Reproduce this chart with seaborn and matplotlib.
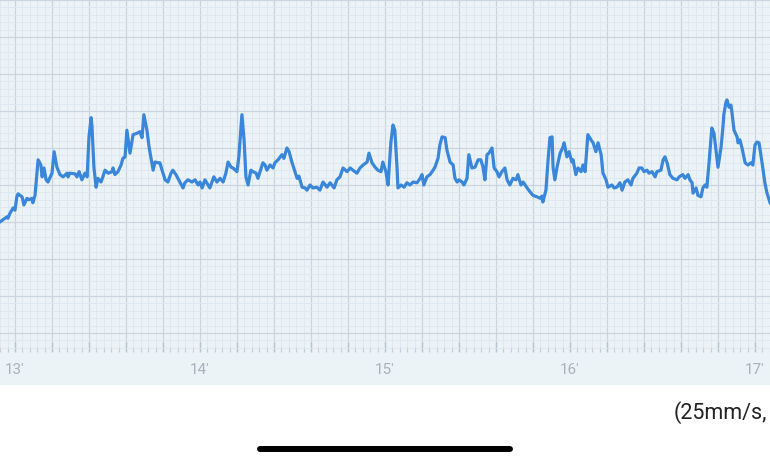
import pandas as pd
import matplotlib.pyplot as plt
import seaborn as sns
from matplotlib.ticker import MultipleLocator, FuncFormatter
from matplotlib.lines import Line2D
from matplotlib.patches import Rectangle

# ECG overview trace: time in seconds, amplitude in mV
time_s = [
    775.1, 776.1, 777.4, 777.7, 778.4, 779.4, 780.0, 780.6, 781.0, 782.3, 782.9, 783.9,
    784.5, 785.5, 785.8, 786.5, 787.5, 788.4, 788.8, 789.4, 790.1, 790.7, 792.0, 792.7,
    793.6, 794.6, 795.6, 796.9, 797.2, 797.8, 799.5, 800.1, 800.8, 801.7, 802.7, 803.4,
    804.0, 804.7, 805.0, 805.6, 806.3, 806.9, 807.9, 808.5, 809.2, 810.2, 811.5, 811.8,
    812.4, 813.4, 814.4, 815.0, 815.7, 816.3, 817.3, 818.3, 819.6, 820.5, 821.2, 821.8,
    822.8, 823.5, 824.8, 825.4, 826.4, 827.0, 827.7, 828.7, 829.6, 830.6, 831.2, 832.2,
    833.5, 834.5, 835.1, 836.1, 837.4, 838.4, 839.4, 840.0, 840.7, 841.6, 842.6, 843.2,
    844.5, 845.5, 846.5, 847.5, 848.4, 849.1, 850.1, 850.7, 852.0, 852.6, 853.6, 854.3,
    854.9, 855.6, 856.5, 857.2, 858.2, 858.8,
    860.4, 861.1, 861.7, 862.7, 863.7, 864.3, 865.3, 866.6, 867.2, 868.2, 868.9, 869.8,
    870.8, 871.5, 872.1, 873.1, 874.1, 874.7, 875.7, 876.6, 877.9, 878.9, 879.9, 881.2,
    882.2, 883.5, 884.4, 885.4, 886.4, 887.7, 888.7, 889.6, 890.9, 891.9, 892.9, 894.2,
    894.8, 895.8, 896.8, 897.7, 898.7, 899.3, 900.3, 901.0, 901.9, 902.6, 903.2, 903.9,
    904.2, 905.2, 906.2, 907.1, 908.1, 909.1, 910.4, 911.4, 912.0, 912.6, 913.6, 914.6,
    915.6, 916.2, 917.2, 917.8, 918.5, 919.5, 920.1, 921.1, 922.1, 922.7, 923.4, 924.0,
    925.0, 925.6, 926.6, 927.2, 928.2, 929.2, 930.2, 931.1, 931.8, 932.4, 933.1, 933.7,
    934.7, 935.4, 936.3, 937.0, 937.9, 938.9, 939.6,
    940.5, 941.5, 942.5, 943.1, 944.1, 944.8, 946.1, 947.0, 948.0, 949.3, 950.3, 950.9,
    951.2, 952.2, 952.9, 953.5, 954.2, 954.5, 955.1, 955.8, 956.8, 957.7, 958.1, 959.0,
    959.7, 960.6, 961.0, 961.9, 962.6, 963.6, 964.2, 964.9, 965.8, 966.8, 967.5, 968.4,
    969.1, 970.1, 970.7, 971.7, 972.3, 973.6, 974.3, 975.2, 976.2, 976.9, 977.8, 978.8,
    979.8, 980.4, 981.7, 982.4, 983.3, 984.0, 985.0, 985.6, 986.6, 987.6, 988.2, 989.5,
    990.2, 990.8, 991.5, 992.4, 993.4, 994.7, 995.4, 996.6, 997.3, 998.3, 998.9, 999.6,
    999.9, 1000.9, 1001.5, 1002.5, 1003.1, 1003.8, 1004.4, 1005.1, 1006.0, 1006.7, 1007.7, 1008.0,
    1009.0, 1009.6, 1009.9, 1010.6, 1010.9, 1011.6, 1012.2, 1012.5, 1013.2, 1014.2, 1014.5, 1015.1,
    1015.8, 1016.8, 1017.7, 1018.7, 1019.3, 1020.0, 1020.6, 1021.3, 1022.3, 1023.2, 1023.9, 1024.9,
]
amp_mv = [
    1.50, 1.53, 1.57, 1.55, 1.62, 1.69, 1.66, 1.84, 1.88, 1.84, 1.73, 1.82,
    1.80, 1.82, 1.76, 1.86, 2.34, 2.27, 2.11, 2.23, 2.07, 2.04, 2.16, 2.45,
    2.24, 2.14, 2.11, 2.16, 2.11, 2.16, 2.15, 2.11, 2.18, 2.07, 2.16, 2.11,
    2.65, 2.91, 2.77, 2.24, 1.97, 2.09, 2.04, 2.11, 2.20, 2.16, 2.18, 2.23,
    2.14, 2.18, 2.27, 2.36, 2.38, 2.74, 2.43, 2.68, 2.70, 2.72, 2.64, 2.95,
    2.74, 2.51, 2.20, 2.31, 2.30, 2.30, 2.20, 2.07, 2.04, 2.16, 2.20, 2.14,
    2.04, 1.96, 2.03, 2.07, 2.04, 2.07, 2.00, 2.04, 1.96, 2.07, 2.00, 1.96,
    2.11, 2.04, 2.09, 2.04, 2.16, 2.31, 2.24, 2.23, 2.18, 2.38, 2.95, 2.61,
    2.11, 2.00, 2.20, 2.18, 2.16, 2.09,
    2.30, 2.27, 2.20, 2.27, 2.23, 2.30, 2.34, 2.41, 2.36, 2.50, 2.45, 2.31,
    2.18, 2.09, 2.12, 1.97, 1.96, 1.93, 2.00, 1.96, 1.97, 1.93, 2.04, 1.97,
    2.03, 1.96, 2.07, 2.11, 2.23, 2.18, 2.23, 2.20, 2.16, 2.23, 2.27, 2.31,
    2.43, 2.30, 2.24, 2.20, 2.18, 2.31, 2.18, 2.00, 2.57, 2.81, 2.74, 2.24,
    1.96, 2.00, 1.97, 2.03, 2.00, 2.04, 2.03, 2.09, 2.14, 2.00, 2.11, 2.14,
    2.20, 2.24, 2.36, 2.54, 2.65, 2.64, 2.47, 2.31, 2.27, 2.09, 2.04, 2.07,
    2.04, 2.00, 2.09, 2.41, 2.23, 2.24, 2.34, 2.34, 2.24, 2.07, 2.41, 2.43,
    2.50, 2.23, 2.18, 2.11, 2.18, 2.23, 2.07,
    2.00, 2.09, 2.07, 2.14, 2.00, 2.04, 1.96, 1.91, 1.86, 1.84, 1.82, 1.85,
    1.77, 1.93, 2.34, 2.64, 2.65, 2.24, 2.07, 2.24, 2.43, 2.51, 2.57, 2.38,
    2.45, 2.31, 2.34, 2.14, 2.23, 2.18, 2.27, 2.18, 2.68, 2.61, 2.57, 2.45,
    2.57, 2.41, 2.16, 2.07, 1.97, 2.00, 1.96, 1.97, 2.03, 1.93, 2.04, 2.07,
    2.00, 2.09, 2.16, 2.23, 2.23, 2.18, 2.20, 2.16, 2.18, 2.11, 2.18, 2.20,
    2.34, 2.38, 2.30, 2.14, 2.09, 2.07, 2.11, 2.14, 2.09, 2.14, 2.07, 2.03,
    1.89, 1.96, 1.86, 1.84, 1.96, 2.00, 1.97, 2.30, 2.77, 2.70, 2.34, 2.24,
    2.51, 2.78, 2.95, 3.12, 3.15, 3.05, 3.08, 2.99, 2.74, 2.65, 2.57, 2.61,
    2.50, 2.30, 2.27, 2.30, 2.27, 2.54, 2.58, 2.57, 2.30, 2.03, 1.89, 1.76,
]

tick_minutes = [13, 14, 15, 16, 17]
tick_labels = ["13′", "14′", "15′", "16′", "17′"]
speed_text = "(25mm/s,"

df = pd.DataFrame({"t": time_s, "mv": amp_mv})

bg = "#ecf3f7"
minor_c = "#dde7ee"
major_c = "#c9d6df"

fig = plt.figure(figsize=(7.7, 4.62), dpi=100)
fig.patch.set_facecolor("white")

# light band behind the chart and the minute labels
fig.add_artist(Rectangle((0, 77 / 462), 1, 385 / 462, transform=fig.transFigure,
                         facecolor=bg, edgecolor="none", zorder=0))

ax = fig.add_axes([0, 110 / 462, 1, 352 / 462])
ax.set_facecolor(bg)

sns.lineplot(data=df, x="t", y="mv", estimator=None, sort=False,
             color="#3a86d9", linewidth=2.3, ax=ax)

ax.set_xlim(775.14, 1024.87)
ax.set_ylim(-0.257, 4.5)

ax.xaxis.set_major_locator(MultipleLocator(12))
ax.xaxis.set_minor_locator(MultipleLocator(2.4))
ax.yaxis.set_major_locator(MultipleLocator(0.5))
ax.yaxis.set_minor_locator(MultipleLocator(0.1))

label_map = {m * 60: lab for m, lab in zip(tick_minutes, tick_labels)}


def fmt(v, pos):
    for k, lab in label_map.items():
        if abs(v - k) < 1e-6:
            return lab
    return ""


ax.xaxis.set_major_formatter(FuncFormatter(fmt))

ax.set_axisbelow(True)
ax.grid(which="minor", color=minor_c, linewidth=0.6)
ax.grid(which="major", color=major_c, linewidth=0.9)

ax.tick_params(axis="x", which="major", direction="in", length=7, width=1,
               color="#b6c4ce", labelsize=11, labelcolor="#a8b2ba", pad=8)
ax.tick_params(axis="x", which="minor", direction="in", length=3.5, width=0.8,
               color="#c2ced7")
ax.tick_params(axis="y", which="both", length=0, labelleft=False)
for lab in ax.get_xticklabels():
    lab.set_fontfamily(["Roboto", "DejaVu Sans"])

for s in ax.spines.values():
    s.set_visible(False)
ax.set_xlabel("")
ax.set_ylabel("")

fig.text(674 / 770, 1 - 413 / 462, speed_text, ha="left", va="center",
         fontsize=15.5, color="#222222", family=["Roboto", "DejaVu Sans"])

# phone home indicator
fig.add_artist(Line2D([260 / 770, 510 / 770], [1 - 449 / 462, 1 - 449 / 462],
                      transform=fig.transFigure, color="black", linewidth=4.3,
                      solid_capstyle="round"))

fig.savefig("out.png", dpi=100, facecolor="white")
